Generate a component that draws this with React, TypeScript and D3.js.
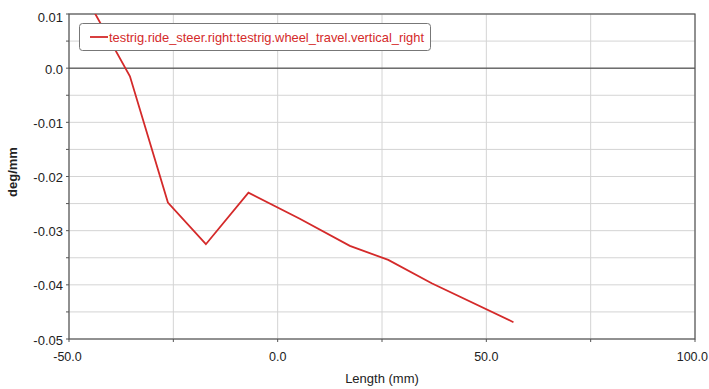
import React from 'react';
import * as d3 from 'd3';

// values
const lengthMm = [-45.5, -35.4, -26.3, -17.2, -7.0, 5.3, 17.3, 26.5, 36.9, 56.5];
const degPerMm = [0.0125, -0.0015, -0.0248, -0.0325, -0.023, -0.0278, -0.0328, -0.0354, -0.0397, -0.0469];
const xTicks = [-50, 0, 50, 100];
const yTicks = [0.01, 0, -0.01, -0.02, -0.03, -0.04, -0.05];
const seriesName = 'testrig.ride_steer.right:testrig.wheel_travel.vertical_right';

const W = 709;
const H = 389;
const margin = { top: 14, right: 14, bottom: 50, left: 69 };
const font = '"Liberation Sans", Arial, sans-serif';

export default function App() {
  const x = d3.scaleLinear().domain([-50, 100]).range([margin.left, W - margin.right]);
  const y = d3.scaleLinear().domain([-0.05, 0.01]).range([H - margin.bottom, margin.top]);
  const pts = lengthMm.map((v, i) => [v, degPerMm[i]] as [number, number]);
  const line = d3.line<[number, number]>().x(d => x(d[0])).y(d => y(d[1]));

  const xGrid = d3.range(-50, 100.1, 25);
  const yGrid = d3.range(-0.05, 0.0101, 0.005);
  const x0 = margin.left, x1 = W - margin.right, y0 = margin.top, y1 = H - margin.bottom;

  return (
    <svg width={W} height={H} style={{ position: 'absolute', left: 0, top: 0, background: '#fff' }}>
      <defs>
        <clipPath id="plot"><rect x={x0} y={y0} width={x1 - x0} height={y1 - y0} /></clipPath>
      </defs>
      {xGrid.map(v => (
        <line key={'xg' + v} x1={x(v)} x2={x(v)} y1={y0} y2={y1} stroke="#d4d4d4" strokeWidth={1} />
      ))}
      {yGrid.map(v => (
        <line key={'yg' + v} x1={x0} x2={x1} y1={y(v)} y2={y(v)} stroke="#d4d4d4" strokeWidth={1} />
      ))}
      <line x1={x0} x2={x1} y1={y(0)} y2={y(0)} stroke="#333" strokeWidth={1} />
      <rect x={x0} y={y0} width={x1 - x0} height={y1 - y0} fill="none" stroke="#555" strokeWidth={1.2} />
      {yGrid.map(v => (
        <line key={'yt' + v} x1={x0 - 3} x2={x0} y1={y(v)} y2={y(v)} stroke="#555" />
      ))}
      {xGrid.map(v => (
        <line key={'xt' + v} x1={x(v)} x2={x(v)} y1={y1} y2={y1 + 3} stroke="#555" />
      ))}
      {yTicks.map(v => (
        <text key={'yl' + v} x={x0 - 6} y={v === 0.01 ? y(v) + 3 : y(v) + 1} dy="0.35em" textAnchor="end" fontSize={13} fontFamily={font} fill="#222">
          {v === 0 ? '0.0' : String(v)}
        </text>
      ))}
      {xTicks.map(v => (
        <text key={'xl' + v} x={v === -50 ? x(v) - 1.5 : v === 100 ? W - 1 : x(v)} y={361}
          textAnchor={v === 100 ? 'end' : 'middle'} fontSize={12.5} fontFamily={font} fill="#222">
          {v.toFixed(1)}
        </text>
      ))}
      <text x={(x0 + x1) / 2} y={383} textAnchor="middle" fontSize={13} fontFamily={font} fill="#222">Length (mm)</text>
      <text transform={`translate(17,172) rotate(-90)`} textAnchor="middle" fontSize={13} fontWeight="bold" fontFamily={font} fill="#222">deg/mm</text>
      <path d={line(pts) || ''} fill="none" stroke="#d42a2a" strokeWidth={1.8} clipPath="url(#plot)" />
      <g>
        <rect x={79.5} y={23.5} width={351} height={27} rx={3} fill="#fff" stroke="#777" />
        <line x1={90} x2={108} y1={37} y2={37} stroke="#d42a2a" strokeWidth={1.8} />
        <text x={109} y={37} dy="0.35em" fontSize={13} fontFamily={font} fill="#d42a2a" textLength={315} lengthAdjust="spacingAndGlyphs">{seriesName}</text>
      </g>
    </svg>
  );
}
